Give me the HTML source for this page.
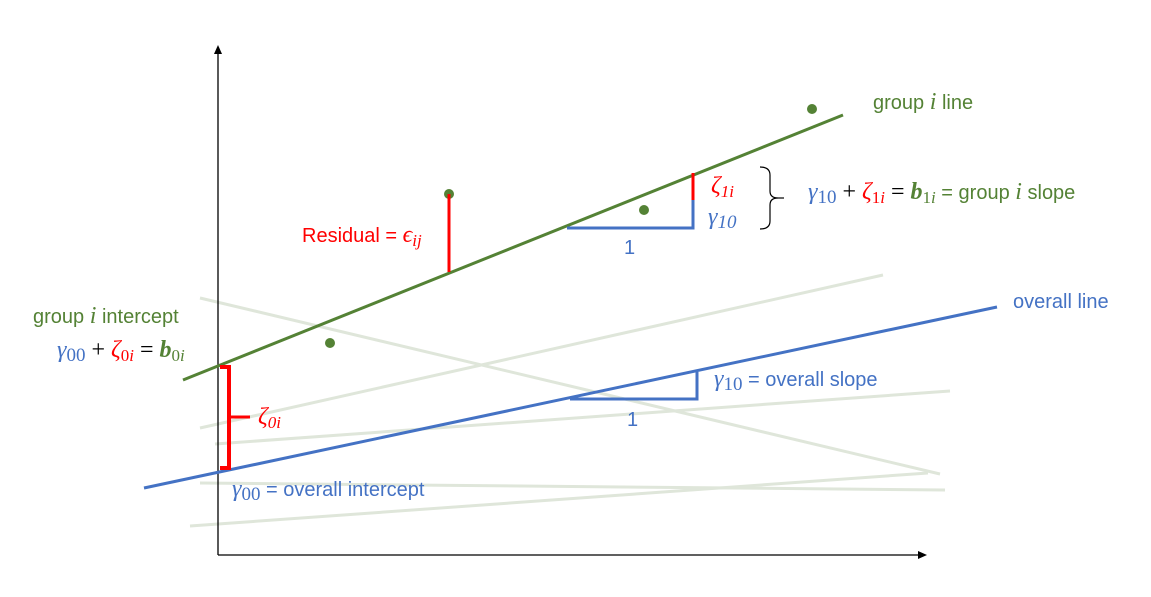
<!DOCTYPE html>
<html><head><meta charset="utf-8"><style>
html,body{margin:0;padding:0;background:#fff;width:1151px;height:597px;overflow:hidden}
text{font-family:"Liberation Sans",sans-serif;font-size:20px}
.m{font-family:"Liberation Serif",serif;font-style:italic;font-size:24px}
.s{font-family:"Liberation Serif",serif;font-style:italic;font-size:17px}
.n{font-family:"Liberation Serif",serif;font-size:24px}
.ns{font-family:"Liberation Serif",serif;font-size:17px}
</style></head><body>
<svg width="1151" height="597" xmlns="http://www.w3.org/2000/svg">
<g stroke="#dfe6da" stroke-width="3" fill="none">
<line x1="200" y1="298" x2="940" y2="474"/>
<line x1="200" y1="428" x2="883" y2="275"/>
<line x1="215" y1="444" x2="950" y2="391"/>
<line x1="200" y1="483" x2="945" y2="490"/>
<line x1="190" y1="526" x2="928" y2="473"/>
</g>
<line x1="218" y1="555" x2="218" y2="52" stroke="#000" stroke-width="1.3"/>
<polygon points="218,45 214,54 222,54" fill="#000"/>
<line x1="218" y1="555" x2="920" y2="555" stroke="#000" stroke-width="1.3"/>
<polygon points="927,555 918,551 918,559" fill="#000"/>
<line x1="183" y1="380" x2="843" y2="115" stroke="#548235" stroke-width="3"/>
<line x1="144" y1="488" x2="997" y2="307" stroke="#4472c4" stroke-width="3"/>
<g fill="#548235"><circle cx="812" cy="109" r="5"/><circle cx="449" cy="194" r="5"/><circle cx="644" cy="210" r="5"/><circle cx="330" cy="343" r="5"/></g>
<line x1="449" y1="194" x2="449" y2="272" stroke="#f00" stroke-width="3"/>
<polyline points="567,228 693,228 693,200" stroke="#4472c4" stroke-width="3" fill="none"/>
<line x1="693" y1="200" x2="693" y2="173" stroke="#f00" stroke-width="3"/>
<polyline points="570,399 697,399 697,372" stroke="#4472c4" stroke-width="3" fill="none"/>
<polyline points="220,367 229,367 229,468 220,468" stroke="#f00" stroke-width="4" fill="none"/>
<line x1="229" y1="417" x2="250" y2="417" stroke="#f00" stroke-width="3"/>
<path d="M760,167 Q770,167 770,175 L770,191 Q770,198 778,198 Q770,198 770,205 L770,221 Q770,229 760,229" stroke="#000" stroke-width="1.2" fill="none"/>
<line x1="778" y1="198" x2="784" y2="198" stroke="#000" stroke-width="1.2"/>

<text x="873" y="109" fill="#548235">group <tspan class="m">i</tspan> line</text>
<text x="1013" y="308" fill="#4472c4">overall line</text>
<text x="302" y="242" fill="#f00">Residual = <tspan class="m">ϵ</tspan><tspan class="s" dy="4">ij</tspan></text>
<text x="711" y="193" class="m" fill="#f00">ζ<tspan class="ns" dy="4">1</tspan><tspan class="s">i</tspan></text>
<text x="708" y="224" class="m" fill="#4472c4">γ<tspan class="ns" dy="4" style="font-size:19px">10</tspan></text>
<text x="624" y="254" fill="#4472c4">1</text>
<text x="627" y="426" fill="#4472c4">1</text>
<text x="808" y="199"><tspan class="m" fill="#4472c4">γ</tspan><tspan class="ns" fill="#4472c4" dy="4" style="font-size:19px">10</tspan><tspan class="n" dy="-4"> + </tspan><tspan class="m" fill="#f00">ζ</tspan><tspan class="ns" fill="#f00" dy="4">1</tspan><tspan class="s" fill="#f00">i</tspan><tspan class="n" dy="-4"> = </tspan><tspan class="m" fill="#548235" style="font-weight:bold">b</tspan><tspan class="ns" fill="#548235" dy="4">1</tspan><tspan class="s" fill="#548235">i</tspan><tspan dy="-4" fill="#548235">  = group </tspan><tspan class="m" fill="#548235">i</tspan><tspan fill="#548235"> slope</tspan></text>
<text x="714" y="386"><tspan class="m" fill="#4472c4">γ</tspan><tspan class="ns" fill="#4472c4" dy="4" style="font-size:19px">10</tspan><tspan dy="-4" fill="#4472c4">  = overall slope</tspan></text>
<text x="33" y="323" fill="#548235">group <tspan class="m">i</tspan> intercept</text>
<text x="57" y="357"><tspan class="m" fill="#4472c4">γ</tspan><tspan class="ns" fill="#4472c4" dy="4" style="font-size:19px">00</tspan><tspan class="n" dy="-4"> + </tspan><tspan class="m" fill="#f00">ζ</tspan><tspan class="ns" fill="#f00" dy="4">0</tspan><tspan class="s" fill="#f00">i</tspan><tspan class="n" dy="-4"> = </tspan><tspan class="m" fill="#548235" style="font-weight:bold">b</tspan><tspan class="ns" fill="#548235" dy="4">0</tspan><tspan class="s" fill="#548235">i</tspan></text>
<text x="258" y="424" class="m" fill="#f00">ζ<tspan class="ns" dy="4">0</tspan><tspan class="s">i</tspan></text>
<text x="232" y="496"><tspan class="m" fill="#4472c4">γ</tspan><tspan class="ns" fill="#4472c4" dy="4" style="font-size:19px">00</tspan><tspan dy="-4" fill="#4472c4">  = overall intercept</tspan></text>
</svg>
</body></html>
